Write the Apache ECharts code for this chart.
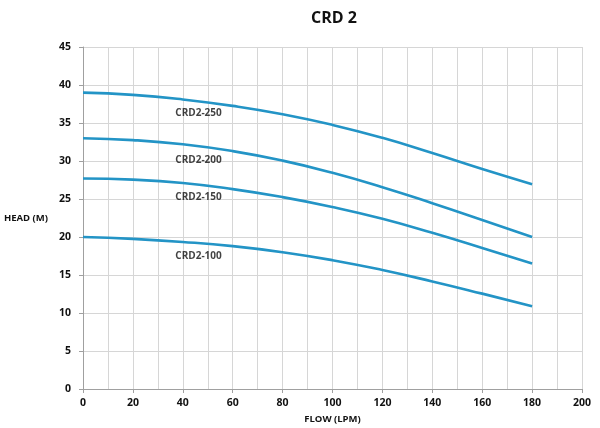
<!DOCTYPE html>
<html>
<head>
<meta charset="utf-8">
<script src="https://cdn.jsdelivr.net/npm/echarts@6/dist/echarts.min.js"></script>
<style>html,body{margin:0;padding:0;background:#fff}#c{width:600px;height:428px}</style>
</head>
<body>
<div id="c"></div>
<script>
var flow = [0, 20, 40, 60, 80, 100, 120, 140, 160, 180];
var crd250 = [39.0, 38.7, 38.1, 37.25, 36.15, 34.75, 33.05, 31.05, 28.95, 26.95];
var crd200 = [33.0, 32.75, 32.2, 31.3, 30.05, 28.45, 26.55, 24.45, 22.25, 20.0];
var crd150 = [27.7, 27.55, 27.1, 26.3, 25.25, 23.95, 22.4, 20.55, 18.55, 16.5];
var crd100 = [20.0, 19.75, 19.35, 18.8, 18.0, 16.95, 15.65, 14.15, 12.55, 10.9];
var seriesNames = ['CRD2-250', 'CRD2-200', 'CRD2-150', 'CRD2-100'];
var labelX = [46.3, 46.3, 46.3, 46.3];
var labelY = [36.3, 30.1, 25.2, 17.5];

var font = '"Open Sans", "Liberation Sans", sans-serif';
var lineColor = '#2394c6';
var all = [crd250, crd200, crd150, crd100];

var series = all.map(function (vals, i) {
  return {
    name: seriesNames[i],
    type: 'line',
    smooth: 0.5,
    symbol: 'none',
    data: flow.map(function (f, j) { return [f, vals[j]]; }),
    lineStyle: { color: lineColor, width: 2.6 },
    silent: true
  };
});
series.push({
  type: 'scatter',
  symbolSize: 0,
  silent: true,
  data: seriesNames.map(function (n, i) { return { value: [labelX[i], labelY[i]], name: n }; }),
  label: {
    show: true,
    position: 'inside',
    formatter: function (p) { return p.name; },
    fontFamily: font, fontWeight: 'bold', fontSize: 10, color: '#111'
  }
});

var chart = echarts.init(document.getElementById('c'));
chart.setOption({
  animation: false,
  title: {
    text: 'CRD 2',
    left: 329, top: 5, textAlign: 'center',
    textStyle: { fontFamily: font, fontWeight: 'bold', fontSize: 16, color: '#111' }
  },
  grid: { left: 83, right: 18, top: 47, bottom: 39, containLabel: false, outerBoundsMode: 'none' },
  xAxis: {
    type: 'value', min: 0, max: 200, interval: 20,
    name: 'FLOW (LPM)', nameLocation: 'middle', nameGap: 25,
    nameTextStyle: { fontFamily: font, fontWeight: 'bold', fontSize: 9.5, color: '#111' },
    axisLine: { show: true, lineStyle: { color: '#a0a0a0', width: 1 } },
    axisTick: { show: true, length: 4, lineStyle: { color: '#a0a0a0' } },
    axisLabel: { fontFamily: font, fontWeight: 'bold', fontSize: 10.5, color: '#111', margin: 9 },
    splitLine: { show: true, lineStyle: { color: '#d6d6d6', width: 1 } },
    minorTick: { show: false, splitNumber: 2 },
    minorSplitLine: { show: true, lineStyle: { color: '#d6d6d6', width: 1 } }
  },
  yAxis: {
    type: 'value', min: 0, max: 45, interval: 5,
    name: 'HEAD (M)', nameLocation: 'middle', nameRotate: 0, nameGap: 35,
    nameTextStyle: { fontFamily: font, fontWeight: 'bold', fontSize: 9.5, color: '#111' },
    axisLine: { show: true, lineStyle: { color: '#a0a0a0', width: 1 } },
    axisTick: { show: true, length: 4, lineStyle: { color: '#a0a0a0' } },
    axisLabel: { fontFamily: font, fontWeight: 'bold', fontSize: 10.5, color: '#111', margin: 12 },
    splitLine: { show: true, lineStyle: { color: '#d6d6d6', width: 1 } }
  },
  series: series
});
</script>
</body>
</html>
